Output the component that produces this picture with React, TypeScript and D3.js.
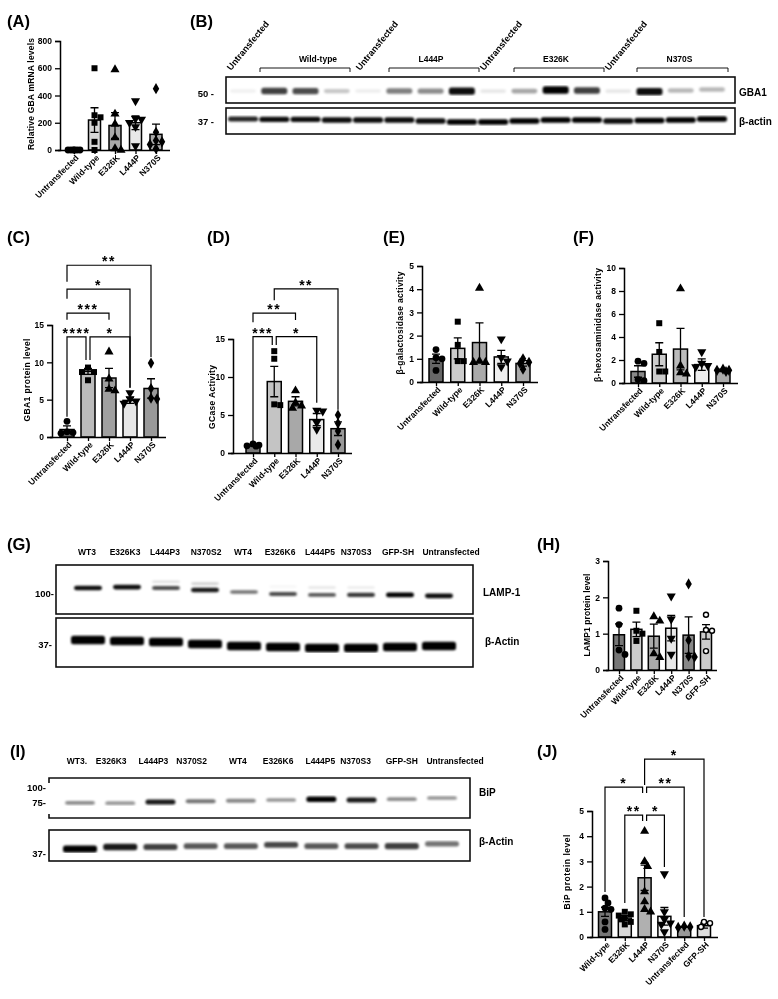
import React, { useEffect, useRef } from "react";
import * as d3 from "d3";

// bar panel values
const groups = ["Untransfected", "Wild-type", "E326K", "L444P", "N370S"];
const groupsH = ["Untransfected", "Wild-type", "E326K", "L444P", "N370S", "GFP-SH"];
const groupsJ = ["Wild-type", "E326K", "L444P", "N370S", "Untransfected", "GFP-SH"];

const meansA = [0, 220, 180, 200, 115];
const errorsA = [2, 90, 95, 50, 75];
const pointsA = [
  [0, 0, 0, 0, 0, 0],
  [600, 255, 240, 200, 60, 0],
  [590, 265, 190, 90, 10, 0],
  [360, 230, 225, 170, 200, 30],
  [450, 130, 70, 60, 40, 10],
];
const ticksA = [0, 200, 400, 600, 800];

const meansC = [1, 8.8, 7.9, 4.9, 6.5];
const errorsC = [0.5, 0.4, 1.3, 0.4, 1.3];
const pointsC = [
  [2.1, 0.7, 0.6, 0.5],
  [9.3, 8.7, 8.7, 7.6],
  [11.4, 7.8, 6.4, 6.2],
  [5.9, 5.1, 4.8, 4.5],
  [9.9, 6.5, 5.2, 5.1],
];
const ticksC = [0, 5, 10, 15];

const meansD = [1, 9.4, 6.8, 4.4, 3.2];
const errorsD = [0.1, 2, 0.6, 0.8, 0.9];
const pointsD = [
  [1.2, 1.05, 0.95, 0.9],
  [13.4, 12.4, 6.4, 6.3],
  [8.2, 6.6, 6.2, 5.9],
  [5.6, 5.5, 4, 3.1],
  [5, 3.9, 2.9, 1.1],
];
const ticksD = [0, 5, 10, 15];

const meansE = [1, 1.45, 1.7, 1.08, 0.8];
const errorsE = [0.2, 0.45, 0.85, 0.28, 0.12];
const pointsE = [
  [1.4, 1.05, 1, 0.5],
  [2.6, 1.6, 0.9, 0.9],
  [4.05, 0.9, 0.85, 0.85],
  [1.85, 1.05, 0.9, 0.65],
  [1, 0.85, 0.8, 0.55],
];
const ticksE = [0, 1, 2, 3, 4, 5];

const meansF = [1, 2.5, 2.95, 1.6, 1.1];
const errorsF = [0.5, 1, 1.8, 0.5, 0.1];
const pointsF = [
  [1.9, 1.7, 0.3, 0.2],
  [5.2, 2.7, 1, 1],
  [8.2, 1.5, 0.9, 0.8],
  [2.7, 1.7, 1.5, 1.4],
  [1.2, 1.1, 1.1, 1],
];
const ticksF = [0, 2, 4, 6, 8, 10];

const meansH = [0.97, 1.12, 0.93, 1.15, 0.96, 1.05];
const errorsH = [0.3, 0.2, 0.33, 0.35, 0.5, 0.2];
const pointsH = [
  [1.7, 1.25, 0.55, 0.43],
  [1.63, 1.08, 1, 0.8],
  [1.47, 1.35, 0.45, 0.35],
  [2.03, 1.4, 0.87, 0.43],
  [2.37, 0.82, 0.38, 0.36],
  [1.52, 1.1, 1.08, 0.52],
];
const ticksH = [0, 1, 2, 3];

const meansJ = [1, 0.75, 2.35, 0.82, 0.4, 0.45];
const errorsJ = [0.18, 0.1, 0.5, 0.35, 0.02, 0.1];
const pointsJ = [
  [1.55, 1.35, 1.15, 1.1, 0.6, 0.3],
  [1, 0.9, 0.85, 0.75, 0.7, 0.6, 0.5],
  [4.2, 3, 2.8, 1.8, 1.4, 1.1, 1],
  [2.5, 1, 0.7, 0.55, 0.5, 0.2],
  [0.43, 0.4, 0.38],
  [0.6, 0.55, 0.4],
];
const ticksJ = [0, 1, 2, 3, 4, 5];

// significance brackets, heights in each panel's y units
const bracketsC = [
  { from: 0, to: 4, top: 23, endA: 20.8, endB: 10.7, label: "**" },
  { from: 0, to: 3, top: 19.8, endA: 18.5, endB: 6.6, label: "*" },
  { from: 0, to: 2, top: 16.6, endA: 15.7, endB: 15.7, label: "***" },
  { from: 0, to: 1, top: 13.4, endA: 2.7, endB: 10.3, label: "****", gapB: -2 },
  { from: 1, to: 3, top: 13.4, endA: 10.3, endB: 6.6, label: "*", gapA: 2 },
];
const bracketsD = [
  { from: 1, to: 4, top: 21.6, endA: 20.1, endB: 5.7, label: "**" },
  { from: 0, to: 2, top: 18.4, endA: 17.2, endB: 17.5, label: "**" },
  { from: 0, to: 1, top: 15.3, endA: 1.45, endB: 14.2, label: "***", gapB: -2 },
  { from: 1, to: 3, top: 15.3, endA: 14.2, endB: 6.6, label: "*", gapA: 2 },
];
const bracketsJ = [
  { from: 2, to: 5, top: 7.06, endA: 6.03, endB: 0.79, label: "*" },
  { from: 0, to: 2, top: 5.95, endA: 1.79, endB: 5.71, label: "*", gapB: -2 },
  { from: 2, to: 4, top: 5.95, endA: 5.71, endB: 0.79, label: "**", gapA: 2 },
  { from: 1, to: 2, top: 4.84, endA: 1.35, endB: 4.6, label: "**", gapB: -2 },
  { from: 2, to: 3, top: 4.84, endA: 4.6, endB: 2.78, label: "*", gapA: 2 },
];

// blot lanes: band strength 0-1 and how far down the membrane the band ran
const lanesB = ["Untransfected", "Wild-type", "Wild-type", "Wild-type", "Untransfected", "L444P", "L444P", "L444P", "Untransfected", "E326K", "E326K", "E326K", "Untransfected", "N370S", "N370S", "N370S"];
const gba1Strength = [0.06, 0.75, 0.7, 0.22, 0.07, 0.5, 0.45, 0.95, 0.09, 0.35, 1, 0.75, 0.09, 0.95, 0.28, 0.28];
const gba1Migration = [0.54, 0.54, 0.54, 0.54, 0.54, 0.54, 0.54, 0.54, 0.54, 0.54, 0.5, 0.52, 0.54, 0.56, 0.52, 0.48];
const actinBStrength = [0.85, 0.95, 0.95, 0.95, 0.95, 0.95, 0.95, 1, 1, 1, 1, 1, 0.95, 1, 1, 1];
const actinBMigration = [0.42, 0.44, 0.44, 0.46, 0.46, 0.46, 0.5, 0.54, 0.54, 0.5, 0.46, 0.46, 0.5, 0.48, 0.46, 0.42];

const lanesG = ["WT3", "E326K3", "L444P3", "N370S2", "WT4", "E326K6", "L444P5", "N370S3", "GFP-SH", "Untransfected"];
const lampStrength = [0.95, 0.95, 0.7, 0.9, 0.55, 0.7, 0.65, 0.78, 1, 0.95];
const lampMigration = [0.47, 0.45, 0.47, 0.51, 0.55, 0.59, 0.61, 0.61, 0.61, 0.63];
const lampFaint = [0, 0, 0.12, 0.18, 0, 0.04, 0.1, 0.08, 0, 0];
const lampFaintMigration = [0.3, 0.3, 0.34, 0.38, 0.4, 0.44, 0.46, 0.46, 0.4, 0.4];
const actinGStrength = [1, 1, 1, 1, 1, 1, 1, 1, 1, 1];
const actinGMigration = [0.45, 0.47, 0.49, 0.53, 0.57, 0.59, 0.61, 0.61, 0.59, 0.57];

const lanesI = ["WT3.", "E326K3", "L444P3", "N370S2", "WT4", "E326K6", "L444P5", "N370S3", "GFP-SH", "Untransfected"];
const bipStrength = [0.45, 0.4, 0.9, 0.55, 0.47, 0.42, 1, 0.9, 0.45, 0.42];
const bipMigration = [0.62, 0.63, 0.6, 0.58, 0.57, 0.55, 0.53, 0.55, 0.53, 0.5];
const actinIStrength = [1, 0.9, 0.75, 0.65, 0.65, 0.72, 0.65, 0.7, 0.75, 0.55];
const actinIMigration = [0.61, 0.55, 0.55, 0.52, 0.52, 0.48, 0.52, 0.52, 0.52, 0.45];

const shapes = [d3.symbolCircle, d3.symbolSquare, d3.symbolTriangle, d3.symbolTriangle, d3.symbolDiamond, d3.symbolCircle];
const font = "'Liberation Sans', Arial, sans-serif";
const swarmSlots = [0, 1, -1, 2, -2];

function barPanel(svg, c) {
  const g = svg.append("g").attr("filter", "url(#soft)");
  const x = d3.scalePoint().domain(c.groups).range([c.first, c.last]);
  const y = d3.scaleLinear().domain([0, c.ticks[c.ticks.length - 1]]).range([c.y0, c.yTop]);

  c.groups.forEach((name, i) => {
    const cx = x(name);
    g.append("rect")
      .attr("x", cx - c.barWidth / 2).attr("width", c.barWidth)
      .attr("y", y(c.means[i])).attr("height", Math.max(0, c.y0 - y(c.means[i])))
      .attr("fill", c.fills[i]).attr("stroke", "#000").attr("stroke-width", 1.5);

    // mean +- sem
    const hi = y(c.means[i] + c.errors[i]);
    const lo = y(c.means[i] - c.errors[i]);
    const err = d3.path();
    err.moveTo(cx, hi); err.lineTo(cx, lo);
    err.moveTo(cx - 4, hi); err.lineTo(cx + 4, hi);
    err.moveTo(cx - 4, lo); err.lineTo(cx + 4, lo);
    g.append("path").attr("d", err.toString()).attr("stroke", "#000").attr("stroke-width", 1.3).attr("fill", "none");

    // simple swarm so equal values sit side by side, overlapping once the row is full
    const placed = [];
    c.points[i].forEach((v, n) => {
      const py = y(v);
      const k = swarmSlots.find(
        (s) => !placed.some((p) => Math.hypot(p[0] - s * 3, p[1] - py) < 5.5)
      );
      const px = (k === undefined ? [1, -1, 0][n % 3] : k) * 3;
      placed.push([px, py]);
      const open = i === 5;
      g.append("path")
        .attr("d", d3.symbol().type(shapes[i]).size(open ? 20 : 36)())
        .attr("transform", `translate(${cx + px},${py})` + (i === 3 ? " rotate(180)" : ""))
        .attr("fill", open ? "#fff" : "#000")
        .attr("stroke", "#000").attr("stroke-width", open ? 1.4 : 0);
    });
  });

  const yAxis = d3.axisLeft(y).tickValues(c.ticks).tickFormat(d3.format("d")).tickSizeOuter(0).tickSize(5);
  const ga = g.append("g").attr("transform", `translate(${c.axisX},0)`).call(yAxis);
  const xAxis = d3.axisBottom(x).tickSize(4).tickSizeOuter(0);
  const gb = g.append("g").attr("transform", `translate(0,${c.y0})`).call(xAxis);
  gb.select(".domain").attr("d", `M${c.axisX - 2},0.5H${c.axisEnd}`);
  gb.selectAll("text")
    .attr("transform", "rotate(-45)")
    .attr("text-anchor", "end")
    .attr("dx", "-0.3em").attr("dy", "0.5em")
    .attr("y", 5).attr("x", 0);
  [ga, gb].forEach((a) => {
    a.attr("font-family", font).attr("font-size", 8.5).attr("font-weight", "bold");
    a.selectAll("line").attr("stroke-width", 1.3);
    a.select(".domain").attr("stroke-width", 1.5);
  });

  g.append("text")
    .attr("transform", `translate(${c.labelX},${c.labelY}) rotate(-90)`)
    .attr("text-anchor", "middle")
    .attr("textLength", c.labelLength)
    .attr("font-family", font).attr("font-size", 8.5).attr("font-weight", "bold")
    .text(c.label);

  (c.brackets || []).forEach((b) => {
    const xa = x(c.groups[b.from]) + (b.gapA || 0);
    const xb = x(c.groups[b.to]) + (b.gapB || 0);
    const p = d3.path();
    p.moveTo(xa, y(b.endA)); p.lineTo(xa, y(b.top)); p.lineTo(xb, y(b.top)); p.lineTo(xb, y(b.endB));
    g.append("path").attr("d", p.toString()).attr("fill", "none").attr("stroke", "#000").attr("stroke-width", 1.2);
    g.append("text")
      .attr("x", (xa + xb) / 2).attr("y", y(b.top) + 1)
      .attr("text-anchor", "middle")
      .attr("letter-spacing", 1.5)
      .attr("font-family", font).attr("font-size", 14).attr("font-weight", "bold")
      .text(b.label);
  });
}

function blot(svg, c) {
  const x = d3.scaleLinear().domain([0, c.strength.length - 1]).range(c.lanes);
  const y = d3.scaleLinear().domain([0, 1]).range([c.y0, c.y1]);
  const bands = svg.append("g").attr("filter", "url(#band)");
  const draw = (strength, migration) => {
    bands.selectAll(null).data(strength).join("rect")
      .attr("x", (d, i) => x(i) - c.bandWidth / 2).attr("width", c.bandWidth)
      .attr("y", (d, i) => y(migration[i]) - (c.bandHeight * (0.45 + d * 0.55)) / 2)
      .attr("height", (d) => c.bandHeight * (0.45 + d * 0.55))
      .attr("rx", 2.5)
      .attr("fill", "#000")
      .attr("opacity", (d) => d);
  };
  draw(c.strength, c.migration);
  if (c.faint) draw(c.faint, c.faintMigration);

  const frame = svg.append("g").attr("filter", "url(#soft)");
  if (c.openLeft) {
    const p = d3.path();
    p.moveTo(c.x0, c.y0 + 5); p.lineTo(c.x0, c.y0); p.lineTo(c.x1, c.y0); p.lineTo(c.x1, c.y1); p.lineTo(c.x0, c.y1); p.lineTo(c.x0, c.y1 - 4);
    frame.append("path").attr("d", p.toString()).attr("fill", "none").attr("stroke", "#111").attr("stroke-width", 1.6);
  } else {
    frame.append("rect").attr("x", c.x0).attr("y", c.y0)
      .attr("width", c.x1 - c.x0).attr("height", c.y1 - c.y0)
      .attr("fill", "none").attr("stroke", "#111").attr("stroke-width", 1.6);
  }
  frame.append("text").attr("x", c.nameX).attr("y", c.nameY)
    .attr("font-family", font).attr("font-size", 10).attr("font-weight", "bold").text(c.name);
  c.sizes.forEach((s) => {
    frame.append("text").attr("x", c.sizeX).attr("y", s.y)
      .attr("text-anchor", "end")
      .attr("font-family", font).attr("font-size", 9.5).attr("font-weight", "bold").text(s.text);
  });
}

function laneLabels(svg, names, lanes, y, dx) {
  const x = d3.scaleLinear().domain([0, names.length - 1]).range(lanes);
  svg.append("g").attr("filter", "url(#soft)")
    .selectAll("text").data(names).join("text")
    .attr("x", (d, i) => x(i) + dx[i]).attr("y", y)
    .attr("text-anchor", "middle")
    .attr("font-family", font).attr("font-size", 8.5).attr("font-weight", "bold")
    .text((d) => d);
}

export default function App() {
  const ref = useRef(null);

  useEffect(() => {
    const svg = d3.select(ref.current);
    svg.selectAll("*").remove();

    const defs = svg.append("defs");
    defs.append("filter").attr("id", "soft").append("feGaussianBlur").attr("stdDeviation", 0.5);
    defs.append("filter").attr("id", "band")
      .attr("x", "-5%").attr("y", "-5%").attr("width", "110%").attr("height", "110%")
      .append("feGaussianBlur").attr("stdDeviation", 1.3);

    // panel letters
    const letters = [
      ["(A)", 7, 27], ["(B)", 190, 27], ["(C)", 7, 243], ["(D)", 207, 243],
      ["(E)", 383, 243], ["(F)", 573, 243], ["(G)", 7, 550], ["(H)", 537, 550],
      ["(I)", 10, 757], ["(J)", 537, 757],
    ];
    svg.append("g").attr("filter", "url(#soft)")
      .selectAll("text").data(letters).join("text")
      .attr("x", (d) => d[1]).attr("y", (d) => d[2])
      .attr("font-family", font).attr("font-size", 16.5).attr("font-weight", "bold")
      .text((d) => d[0]);

    barPanel(svg, {
      groups, means: meansA, errors: errorsA, points: pointsA, ticks: ticksA,
      axisX: 60, axisEnd: 170, y0: 150, yTop: 41, first: 74, last: 156, barWidth: 12,
      fills: ["#fff", "#d8d8d8", "#aaa", "#e8e8e8", "#aaa"],
      label: "Relative GBA mRNA levels", labelX: 34, labelY: 94, labelLength: 112,
    });
    barPanel(svg, {
      groups, means: meansC, errors: errorsC, points: pointsC, ticks: ticksC, brackets: bracketsC,
      axisX: 52, axisEnd: 166, y0: 437, yTop: 325, first: 67, last: 151, barWidth: 14,
      fills: ["#666", "#bbb", "#a0a0a0", "#e6e6e6", "#999"],
      label: "GBA1 protein level", labelX: 30, labelY: 380, labelLength: 83,
    });
    barPanel(svg, {
      groups, means: meansD, errors: errorsD, points: pointsD, ticks: ticksD, brackets: bracketsD,
      axisX: 233, axisEnd: 352, y0: 453, yTop: 339, first: 253, last: 338, barWidth: 14,
      fills: ["#777", "#c4c4c4", "#a8a8a8", "#eaeaea", "#999"],
      label: "GCase Activity", labelX: 215, labelY: 397, labelLength: 64,
    });
    barPanel(svg, {
      groups, means: meansE, errors: errorsE, points: pointsE, ticks: ticksE,
      axisX: 422, axisEnd: 538, y0: 382, yTop: 266, first: 436, last: 523, barWidth: 14,
      fills: ["#666", "#ccc", "#aaa", "#eee", "#aaa"],
      label: "β-galactosidase activity", labelX: 403, labelY: 323, labelLength: 103,
    });
    barPanel(svg, {
      groups, means: meansF, errors: errorsF, points: pointsF, ticks: ticksF,
      axisX: 624, axisEnd: 738, y0: 383, yTop: 268, first: 638, last: 723, barWidth: 14,
      fills: ["#888", "#ccc", "#bbb", "#eee", "#aaa"],
      label: "β-hexosaminidase activity", labelX: 601, labelY: 325, labelLength: 114,
    });
    barPanel(svg, {
      groups: groupsH, means: meansH, errors: errorsH, points: pointsH, ticks: ticksH,
      axisX: 608, axisEnd: 717, y0: 670, yTop: 561, first: 619, last: 706, barWidth: 11,
      fills: ["#777", "#ccc", "#aaa", "#e8e8e8", "#888", "#ccc"],
      label: "LAMP1 protein level", labelX: 590, labelY: 615, labelLength: 83,
    });
    barPanel(svg, {
      groups: groupsJ, means: meansJ, errors: errorsJ, points: pointsJ, ticks: ticksJ, brackets: bracketsJ,
      axisX: 592, axisEnd: 718, y0: 937, yTop: 811, first: 605, last: 704, barWidth: 13,
      fills: ["#777", "#d8d8d8", "#b0b0b0", "#f2f2f2", "#999", "#ddd"],
      label: "BiP protein level", labelX: 570, labelY: 872, labelLength: 75,
    });

    // blot B
    blot(svg, {
      strength: gba1Strength, migration: gba1Migration, lanes: [243, 712],
      x0: 226, x1: 735, y0: 77, y1: 103, bandWidth: 26, bandHeight: 7.5,
      name: "GBA1", nameX: 739, nameY: 96,
      sizes: [{ text: "50 -", y: 97 }], sizeX: 214,
    });
    blot(svg, {
      strength: actinBStrength, migration: actinBMigration, lanes: [243, 712],
      x0: 226, x1: 735, y0: 108, y1: 134, bandWidth: 30, bandHeight: 5.5,
      name: "β-actin", nameX: 739, nameY: 125,
      sizes: [{ text: "37 -", y: 125 }], sizeX: 214,
    });
    const top = svg.append("g").attr("filter", "url(#soft)");
    [231, 360, 484, 609].forEach((sx) => {
      top.append("text").attr("transform", `translate(${sx},71) rotate(-50.6)`)
        .attr("font-family", font).attr("font-size", 9).attr("font-weight", "bold")
        .text(lanesB[0]);
    });
    [["Wild-type", 260, 350], ["L444P", 389, 479], ["E326K", 514, 604], ["N370S", 637, 728]].forEach((b) => {
      top.append("text").attr("x", (b[1] + b[2]) / 2 + (b[0] === "Wild-type" ? 13 : -3)).attr("y", 62)
        .attr("text-anchor", "middle")
        .attr("font-family", font).attr("font-size", 8.5).attr("font-weight", "bold").text(b[0]);
      top.append("path").attr("d", `M${b[1]},72V68H${b[2]}V72`)
        .attr("fill", "none").attr("stroke", "#111").attr("stroke-width", 1);
    });

    // blot G
    laneLabels(svg, lanesG, [88, 439], 555, [-1, -2, -1, 1, -1, -3, -2, -5, -2, 12]);
    blot(svg, {
      strength: lampStrength, migration: lampMigration, faint: lampFaint, faintMigration: lampFaintMigration,
      lanes: [88, 439], x0: 56, x1: 473, y0: 565, y1: 614, bandWidth: 28, bandHeight: 4.8,
      name: "LAMP-1", nameX: 483, nameY: 596,
      sizes: [{ text: "100-", y: 597 }], sizeX: 54,
    });
    blot(svg, {
      strength: actinGStrength, migration: actinGMigration,
      lanes: [88, 439], x0: 56, x1: 473, y0: 618, y1: 667, bandWidth: 34, bandHeight: 8.5,
      name: "β-Actin", nameX: 485, nameY: 645,
      sizes: [{ text: "37-", y: 648 }], sizeX: 52,
    });

    // blot I
    laneLabels(svg, lanesI, [80, 442], 764, [-3, -9, -7, -9, -3, -3, -1, -6, 0, 13]);
    blot(svg, {
      strength: bipStrength, migration: bipMigration, openLeft: true,
      lanes: [80, 442], x0: 49, x1: 470, y0: 778, y1: 818, bandWidth: 30, bandHeight: 5.5,
      name: "BiP", nameX: 479, nameY: 796,
      sizes: [{ text: "100-", y: 791 }, { text: "75-", y: 806 }], sizeX: 46,
    });
    blot(svg, {
      strength: actinIStrength, migration: actinIMigration,
      lanes: [80, 442], x0: 49, x1: 470, y0: 830, y1: 861, bandWidth: 34, bandHeight: 7,
      name: "β-Actin", nameX: 479, nameY: 845,
      sizes: [{ text: "37-", y: 857 }], sizeX: 46,
    });
  }, []);

  return (
    <svg
      ref={ref}
      width={778}
      height={999}
      style={{ position: "absolute", left: 0, top: 0, background: "#fff" }}
    />
  );
}
